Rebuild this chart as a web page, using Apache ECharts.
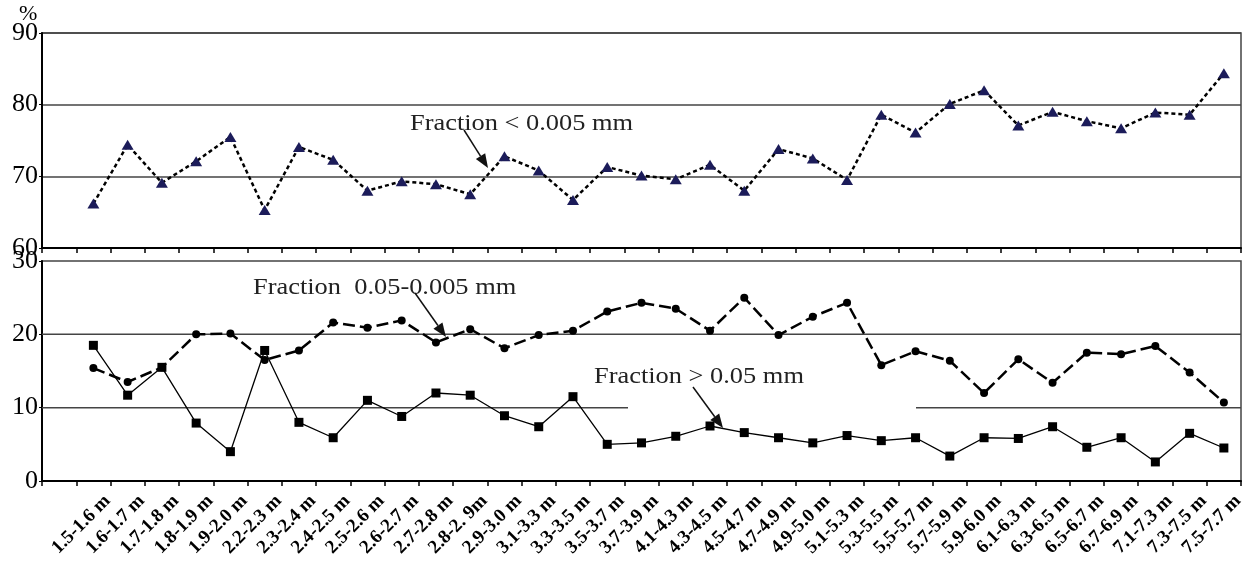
<!DOCTYPE html>
<html>
<head>
<meta charset="utf-8">
<script src="https://cdn.jsdelivr.net/npm/echarts@6/dist/echarts.min.js"></script>
<style>html,body{margin:0;padding:0;background:#fff}#main{width:1248px;height:567px}</style>
</head>
<body>
<div id="main"></div>
<script>
// depth intervals
var categories = ['1.5-1.6 m', '1.6-1.7 m', '1.7-1.8 m', '1.8-1.9 m', '1.9-2.0 m', '2.2-2.3 m', '2.3-2.4 m',
    '2.4-2.5 m', '2.5-2.6 m', '2.6-2.7 m', '2.7-2.8 m', '2.8-2. 9m', '2.9-3.0 m', '3.1-3.3 m', '3.3-3.5 m',
    '3.5-3.7 m', '3.7-3.9 m', '4.1-4.3 m', '4.3-4.5 m', '4.5-4.7 m', '4.7-4.9 m', '4.9-5.0 m', '5.1-5.3 m',
    '5.3-5.5 m', '5,5-5.7 m', '5.7-5.9 m', '5.9-6.0 m', '6.1-6.3 m', '6.3-6.5 m', '6.5-6.7 m', '6.7-6.9 m',
    '7.1-7.3 m', '7.3-7.5 m', '7.5-7.7 m'];

// Fraction < 0.005 mm
var fine = [66.2, 74.4, 69.1, 72.1, 75.5, 65.3, 74.1, 72.3, 68.0, 69.3, 68.9, 67.5, 72.8, 70.8, 66.7, 71.3, 70.1,
    69.6, 71.6, 68.0, 73.8, 72.5, 69.5, 78.6, 76.1, 80.1, 82.0, 77.1, 79.0, 77.7, 76.7, 78.9, 78.6, 84.4];
// Fraction 0.05-0.005 mm
var silt = [15.4, 13.5, 15.5, 20.0, 20.1, 16.5, 17.8, 21.6, 20.9, 21.9, 18.9, 20.7, 18.1, 19.9, 20.5, 23.1, 24.3,
    23.5, 20.5, 25.0, 19.9, 22.4, 24.3, 15.8, 17.7, 16.4, 12.0, 16.6, 13.4, 17.5, 17.3, 18.4, 14.8, 10.7];
// Fraction > 0.05 mm
var sand = [18.5, 11.7, 15.5, 7.9, 4.0, 17.8, 8.0, 5.9, 11.0, 8.8, 12.0, 11.7, 8.9, 7.4, 11.5, 5.0, 5.2,
    6.1, 7.5, 6.6, 5.9, 5.2, 6.2, 5.5, 5.9, 3.4, 5.9, 5.8, 7.4, 4.6, 5.9, 2.6, 6.5, 4.5];

// first band on the axis is left empty in the original
var cats = [''].concat(categories);
function pad(arr) { return [null].concat(arr); }

var serif = '"Liberation Serif", "Times New Roman", serif';
var gridColor = '#444';

var myChart = echarts.init(document.getElementById('main'));

function xAxisOf(idx, withLabels) {
    return {
        type: 'category',
        gridIndex: idx,
        data: cats,
        boundaryGap: true,
        axisLine: { show: true, lineStyle: { color: '#000', width: 2 } },
        axisTick: { show: true, interval: 0, length: 5, lineStyle: { color: '#000', width: 1.5 } },
        axisLabel: withLabels ? {
            show: true,
            interval: 0,
            rotate: 45,
            align: 'right',
            verticalAlign: 'top',
            lineHeight: 40,
            margin: 3,
            color: '#000',
            fontFamily: serif,
            fontWeight: 'bold',
            fontSize: 19
        } : { show: false },
        splitLine: { show: false }
    };
}

function yAxisOf(idx, min, max, grid) {
    return {
        type: 'value',
        gridIndex: idx,
        min: min,
        max: max,
        interval: 10,
        axisLine: { show: true, lineStyle: { color: '#000', width: 2 } },
        axisTick: { show: true, length: 3, lineStyle: { color: '#000' } },
        axisLabel: { color: '#000', fontFamily: serif, fontSize: 26, margin: 4 },
        splitLine: { show: grid, lineStyle: { color: gridColor, width: 1.5 } }
    };
}

option = {
    backgroundColor: '#fff',
    animation: false,
    grid: [
        { left: 42, right: 7, top: 33, height: 215, show: true, borderColor: gridColor, borderWidth: 1.5,
          outerBoundsMode: 'none', containLabel: false },
        { left: 42, right: 7, top: 261, height: 220, show: true, borderColor: gridColor, borderWidth: 1.5,
          outerBoundsMode: 'none', containLabel: false }
    ],
    xAxis: [xAxisOf(0, false), xAxisOf(1, true)],
    yAxis: [yAxisOf(0, 60, 90, true), yAxisOf(1, 0, 30, false)],
    series: [
        {
            name: 'Fraction < 0.005 mm',
            type: 'line',
            xAxisIndex: 0, yAxisIndex: 0,
            data: pad(fine),
            symbol: 'triangle',
            symbolSize: [12, 10],
            itemStyle: { color: '#1c1c5a' },
            lineStyle: { color: '#000', width: 2.5, type: [4, 3] },
            z: 3
        },
        {
            name: 'Fraction 0.05-0.005 mm',
            type: 'line',
            xAxisIndex: 1, yAxisIndex: 1,
            data: pad(silt),
            symbol: 'circle',
            symbolSize: 8,
            itemStyle: { color: '#000' },
            lineStyle: { color: '#000', width: 2.5, type: [12, 5] },
            z: 3
        },
        {
            name: 'Fraction > 0.05 mm',
            type: 'line',
            xAxisIndex: 1, yAxisIndex: 1,
            data: pad(sand),
            symbol: 'rect',
            symbolSize: 9,
            itemStyle: { color: '#000' },
            lineStyle: { color: '#000', width: 1.3 },
            z: 3
        }
    ]
};

myChart.setOption(option);

// gridlines of the lower panel (the 10 line is broken where a label sat)
var gx0 = 42, gx1 = 1241;
var y20 = myChart.convertToPixel({ yAxisIndex: 1 }, 20);
var y10 = myChart.convertToPixel({ yAxisIndex: 1 }, 10);

function hline(x1, x2, y) {
    return { type: 'line', z: 1, shape: { x1: x1, y1: y, x2: x2, y2: y },
        style: { stroke: gridColor, lineWidth: 1.5 } };
}

function arrow(x1, y1, x2, y2) {
    var a = Math.atan2(y2 - y1, x2 - x1), L = 14, W = 5.5;
    var bx = x2 - L * Math.cos(a), by = y2 - L * Math.sin(a);
    return [
        { type: 'line', z: 10, shape: { x1: x1, y1: y1, x2: bx, y2: by }, style: { stroke: '#111', lineWidth: 1.5 } },
        { type: 'polygon', z: 10, shape: { points: [[x2, y2],
            [bx + W * Math.sin(a), by - W * Math.cos(a)], [bx - W * Math.sin(a), by + W * Math.cos(a)]] },
            style: { fill: '#111' } }
    ];
}

function label(x, y, text) {
    return { type: 'text', z: 10, x: x, y: y, scaleX: 1.1,
        style: { text: text, font: '24px ' + serif, fill: '#222', textVerticalAlign: 'middle' } };
}

var g = [
    hline(gx0, gx1, y20),
    hline(gx0, 628, y10),
    hline(916, gx1, y10),
    { type: 'text', z: 10, x: 19, y: 3, style: { text: '%', font: '22px ' + serif, fill: '#000' } },
    label(410, 124, 'Fraction < 0.005 mm'),
    label(253, 288, 'Fraction  0.05-0.005 mm'),
    label(594, 377, 'Fraction > 0.05 mm')
].concat(arrow(464, 130, 488, 168), arrow(415, 293, 446, 337), arrow(693, 387, 723, 428));

myChart.setOption({ graphic: g });
</script>
</body>
</html>
